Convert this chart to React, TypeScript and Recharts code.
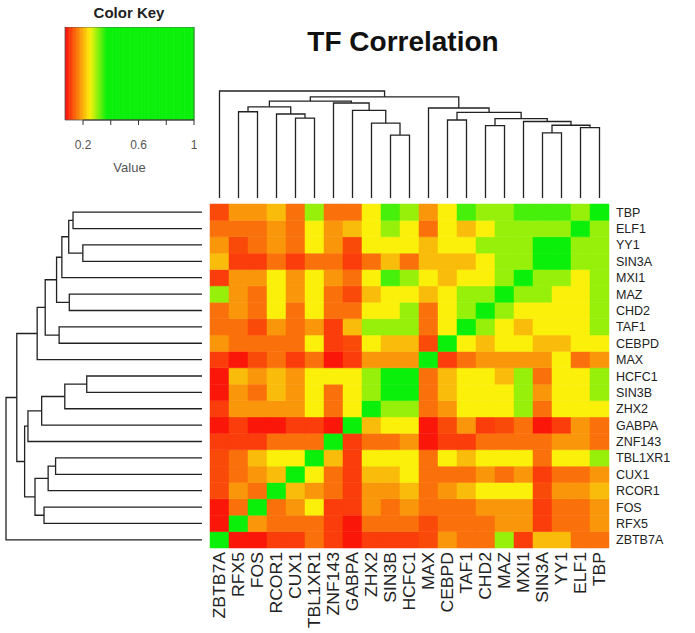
import React from 'react';
import { ScatterChart, Scatter, XAxis, YAxis, ReferenceArea, ReferenceLine } from 'recharts';

const FONT = '"Liberation Sans", Arial, Helvetica, sans-serif';

// Column order (left to right); row order is the same from bottom to top
const GENES = ['ZBTB7A', 'RFX5', 'FOS', 'RCOR1', 'CUX1', 'TBL1XR1', 'ZNF143', 'GABPA', 'ZHX2', 'SIN3B', 'HCFC1', 'MAX', 'CEBPD', 'TAF1', 'CHD2', 'MAZ', 'MXI1', 'SIN3A', 'YY1', 'ELF1', 'TBP'];

// correlation values, one array per row (values by column in GENES order)
const rowZBTB7A = [1, .08, .08, .11, .11, .15, .11, .08, .11, .11, .11, .12, .18, .15, .15, .30, .11, .21, .21, .15, .15];
const rowRFX5 = [.08, 1, .18, .15, .15, .15, .11, .08, .15, .15, .15, .12, .15, .15, .15, .18, .18, .11, .15, .15, .18];
const rowFOS = [.08, .15, 1, .15, .18, .25, .11, .11, .18, .15, .18, .15, .15, .15, .18, .18, .18, .11, .15, .15, .18];
const rowRCOR1 = [.12, .18, .15, 1, .21, .18, .15, .11, .18, .18, .21, .15, .18, .21, .25, .25, .25, .12, .18, .18, .21];
const rowCUX1 = [.12, .15, .18, .21, 1, .25, .15, .11, .21, .21, .25, .15, .15, .15, .18, .15, .18, .11, .15, .15, .18];
const rowTBL1XR1 = [.12, .15, .21, .25, .25, 1, .21, .11, .25, .25, .25, .15, .25, .21, .25, .25, .25, .15, .25, .25, .30];
const rowZNF143 = [.11, .11, .11, .15, .15, .15, 1, .11, .15, .15, .18, .08, .11, .11, .15, .15, .15, .15, .18, .18, .15];
const rowGABPA = [.08, .11, .08, .08, .11, .11, .08, 1, .21, .25, .25, .08, .12, .18, .11, .12, .15, .08, .11, .18, .15];
const rowZHX2 = [.11, .18, .18, .18, .18, .25, .15, .25, 1, .30, .30, .15, .18, .25, .25, .25, .30, .15, .25, .25, .25];
const rowSIN3B = [.08, .18, .15, .21, .18, .25, .15, .25, .30, 1, .45, .15, .21, .25, .25, .25, .30, .18, .25, .25, .30];
const rowHCFC1 = [.08, .21, .18, .21, .18, .25, .25, .25, .30, .45, 1, .15, .21, .25, .25, .21, .30, .15, .25, .25, .30];
const rowMAX = [.11, .08, .12, .15, .11, .15, .08, .11, .18, .18, .18, 1, .11, .15, .18, .18, .18, .18, .25, .15, .18];
const rowCEBPD = [.18, .15, .15, .15, .15, .25, .11, .12, .25, .21, .21, .12, 1, .25, .21, .25, .25, .21, .21, .25, .25];
const rowTAF1 = [.15, .15, .12, .18, .15, .18, .11, .21, .30, .30, .30, .15, .25, 1, .30, .25, .21, .25, .25, .25, .30];
const rowCHD2 = [.15, .18, .15, .25, .15, .25, .15, .15, .25, .25, .30, .15, .25, .30, 1, .30, .25, .25, .25, .25, .30];
const rowMAZ = [.30, .18, .15, .25, .18, .25, .15, .12, .21, .25, .25, .21, .25, .30, .30, 1, .30, .30, .25, .25, .30];
const rowMXI1 = [.11, .18, .18, .25, .18, .25, .18, .15, .25, .34, .30, .25, .21, .25, .25, .30, 1, .30, .30, .25, .30];
const rowSIN3A = [.21, .11, .11, .15, .11, .15, .15, .11, .15, .21, .15, .21, .21, .21, .25, .30, .30, 1, .45, .30, .30];
const rowYY1 = [.18, .12, .15, .18, .15, .25, .18, .12, .25, .25, .25, .21, .25, .25, .30, .30, .30, .45, 1, .30, .30];
const rowELF1 = [.15, .15, .15, .18, .15, .25, .18, .21, .25, .30, .25, .15, .25, .21, .25, .30, .30, .30, .30, 1, .30];
const rowTBP = [.12, .18, .18, .21, .15, .30, .15, .15, .25, .34, .30, .18, .25, .34, .30, .30, .34, .34, .34, .30, 1];

const ROWS = [rowZBTB7A, rowRFX5, rowFOS, rowRCOR1, rowCUX1, rowTBL1XR1, rowZNF143, rowGABPA, rowZHX2, rowSIN3B, rowHCFC1, rowMAX, rowCEBPD, rowTAF1, rowCHD2, rowMAZ, rowMXI1, rowSIN3A, rowYY1, rowELF1, rowTBP];

// hclust-style merges: negative = leaf (-(index+1)), positive = earlier merge (1-based)
const MERGE_A = [-10, -9, -8, -7, -5, -4, -2, 7, 8, -18, -20, 10, -17, -15, 14, -13, 16, -12, 9, -1];
const MERGE_B = [-11, 1, 2, 3, -6, 5, -3, 6, 4, -19, -21, 11, 12, -16, 13, -14, 15, 17, 18, 19];
const MERGE_H = [0.588, 0.70, 0.818, 0.888, 0.747, 0.785, 0.806, 0.852, 0.905, 0.608, 0.658, 0.68, 0.715, 0.677, 0.742, 0.729, 0.80, 0.841, 0.945, 1.0];

// Color key
const KEY_MIN = 0.07;
const KEY_MAX = 1;
const KEY_TICKS = [0.2, 0.4, 0.6, 0.8, 1];
const KEY_LABELS = [0.2, 0.6, 1];

function valueColor(v: number): string {
  const lo = 0.07, mid = 0.25, hi = 0.37;
  let r = 255, g = 255;
  if (v <= mid) {
    const t = Math.max(0, (v - lo) / (mid - lo));
    g = Math.round(255 * t);
    r = 255;
  } else {
    const t = Math.min(1, (v - mid) / (hi - mid));
    r = Math.round(255 * (1 - t));
    g = 255;
  }
  const rr = Math.round(r * 0.94 + 10);
  const gg = Math.round(g * 0.9 + 10);
  return `rgb(${Math.min(255, rr)},${Math.min(255, gg)},10)`;
}

type Pt = { p: number; h: number };
function buildSegments(): Pt[][] {
  const pos: number[] = [];
  const segs: Pt[][] = [];
  const ref = (k: number): Pt => (k < 0 ? { p: -k - 1 + 0.5, h: 0 } : { p: pos[k - 1], h: MERGE_H[k - 1] });
  MERGE_A.forEach((a, i) => {
    const A = ref(a);
    const B = ref(MERGE_B[i]);
    pos[i] = (A.p + B.p) / 2;
    const h = MERGE_H[i];
    segs.push([A, { p: A.p, h }, { p: B.p, h }, B]);
  });
  return segs;
}

const SEGMENTS = buildSegments();
const N = GENES.length;
const TICKS = GENES.map((_, i) => i + 0.5);
const cellPoints = ROWS.flatMap((row, g) => row.map((v, c) => ({ x: c + 0.5, y: g + 0.5, v })));

const Empty = () => <g />;

const BottomTick = (props: any) => {
  const { x, y, payload } = props;
  const name = GENES[Math.round(payload.value - 0.5)];
  return (
    <g transform={`translate(${x},${y})`}>
      <text transform="rotate(-90) scale(1.1,1)" x={0} y={0} dy="0.36em" textAnchor="end" fontSize={16} fill="#222" fontFamily={FONT}>
        {name}
      </text>
    </g>
  );
};

const RightTick = (props: any) => {
  const { x, y, payload } = props;
  const name = GENES[Math.round(payload.value - 0.5)];
  return (
    <text x={x} y={y} dy="0.36em" textAnchor="start" fontSize={12.5} fill="#222" fontFamily={FONT}>
      {name}
    </text>
  );
};

const keySlices: { a: number; b: number }[] = [];
for (let i = 0; i < 93; i++) {
  const a = KEY_MIN + (i * (KEY_MAX - KEY_MIN)) / 93;
  const b = KEY_MIN + ((i + 1) * (KEY_MAX - KEY_MIN)) / 93;
  keySlices.push({ a, b });
}

export default function App() {
  return (
    <div style={{ position: 'absolute', left: 0, top: 0, width: 695, height: 633, background: '#fff', fontFamily: FONT }}>
      {/* Title */}
      <div style={{ position: 'absolute', left: 403, top: 42, transform: 'translate(-50%,-50%)', whiteSpace: 'nowrap', fontSize: 28, fontWeight: 'bold', color: '#111' }}>
        TF Correlation
      </div>
      <div style={{ position: 'absolute', left: 129, top: 12, transform: 'translate(-50%,-50%)', whiteSpace: 'nowrap', fontSize: 15, fontWeight: 'bold', color: '#222' }}>
        Color Key
      </div>

      {/* Color key */}
      <div style={{ position: 'absolute', left: 62, top: 27 }}>
        <ScatterChart width={135} height={155} margin={{ top: 0, left: 3, right: 3, bottom: 0 }}>
          <XAxis type="number" dataKey="x" domain={[KEY_MIN, KEY_MAX]} ticks={KEY_TICKS} interval={0} axisLine={false}
            tickSize={5} tickMargin={15} height={62} allowDataOverflow
            tick={{ fontSize: 12, fill: '#555', fontFamily: FONT }}
            tickLine={{ stroke: '#333' }}
            tickFormatter={(v: number) => (KEY_LABELS.some((l) => Math.abs(l - v) < 1e-6) ? String(v) : '')}
            label={{ value: 'Value', position: 'insideBottom', offset: 10, fontSize: 13, fill: '#555', fontFamily: FONT }} />
          <YAxis type="number" dataKey="y" domain={[0, 1]} hide />
          {keySlices.map((s, i) => (
            <ReferenceArea key={i} x1={s.a} x2={s.b + 0.004} y1={0} y2={1} fill={valueColor((s.a + s.b) / 2)} fillOpacity={1} stroke="none" ifOverflow="visible" />
          ))}
          <ReferenceArea x1={KEY_MIN} x2={KEY_MAX} y1={0} y2={1} fill="none" stroke="#555" strokeWidth={0.8} ifOverflow="visible" />
          <ReferenceLine segment={[{ x: 0.2, y: 0 }, { x: 1, y: 0 }]} stroke="#333" ifOverflow="visible" />
          <Scatter data={[{ x: 0.5, y: 0.5 }]} shape={Empty} isAnimationActive={false} />
        </ScatterChart>
      </div>

      {/* Heatmap */}
      <div style={{ position: 'absolute', left: 0, top: 0 }}>
        <ScatterChart width={695} height={633} margin={{ top: 204, left: 210, right: 0, bottom: 0 }}>
          <XAxis type="number" dataKey="x" domain={[0, N]} ticks={TICKS} interval={0} axisLine={false} tickLine={false}
            tickSize={0} tickMargin={4} height={85} tick={<BottomTick />} />
          <YAxis type="number" dataKey="y" domain={[0, N]} ticks={TICKS} interval={0} orientation="right" axisLine={false} tickLine={false}
            tickSize={0} tickMargin={7} width={86} tick={<RightTick />} />
          {cellPoints.map((c, i) => (
            <ReferenceArea key={i} x1={c.x - 0.5} x2={c.x + 0.5} y1={c.y - 0.5} y2={c.y + 0.5}
              fill={valueColor(c.v)} fillOpacity={1} stroke={valueColor(c.v)} strokeWidth={0.5} ifOverflow="visible" />
          ))}
          <Scatter data={cellPoints} shape={Empty} isAnimationActive={false} />
        </ScatterChart>
      </div>

      {/* Top dendrogram */}
      <div style={{ position: 'absolute', left: 208, top: 89 }}>
        <ScatterChart width={403} height={111} margin={{ top: 2, left: 2, right: 2, bottom: 2 }}>
          <XAxis type="number" dataKey="x" domain={[0, N]} hide />
          <YAxis type="number" dataKey="y" domain={[0, 1]} hide />
          {SEGMENTS.map((s, i) => (
            <Scatter key={i} data={s.map((q) => ({ x: q.p, y: q.h }))} fill="#222" line={{ stroke: '#222', strokeWidth: 1.3 }}
              lineType="joint" shape={Empty} isAnimationActive={false} />
          ))}
        </ScatterChart>
      </div>

      {/* Left dendrogram */}
      <div style={{ position: 'absolute', left: 4, top: 202 }}>
        <ScatterChart width={200} height={348} margin={{ top: 2, left: 2, right: 2, bottom: 2 }}>
          <XAxis type="number" dataKey="x" domain={[0, 1]} reversed hide />
          <YAxis type="number" dataKey="y" domain={[0, N]} hide />
          {SEGMENTS.map((s, i) => (
            <Scatter key={i} data={s.map((q) => ({ x: q.h, y: q.p }))} fill="#222" line={{ stroke: '#222', strokeWidth: 1.3 }}
              lineType="joint" shape={Empty} isAnimationActive={false} />
          ))}
        </ScatterChart>
      </div>
    </div>
  );
}
